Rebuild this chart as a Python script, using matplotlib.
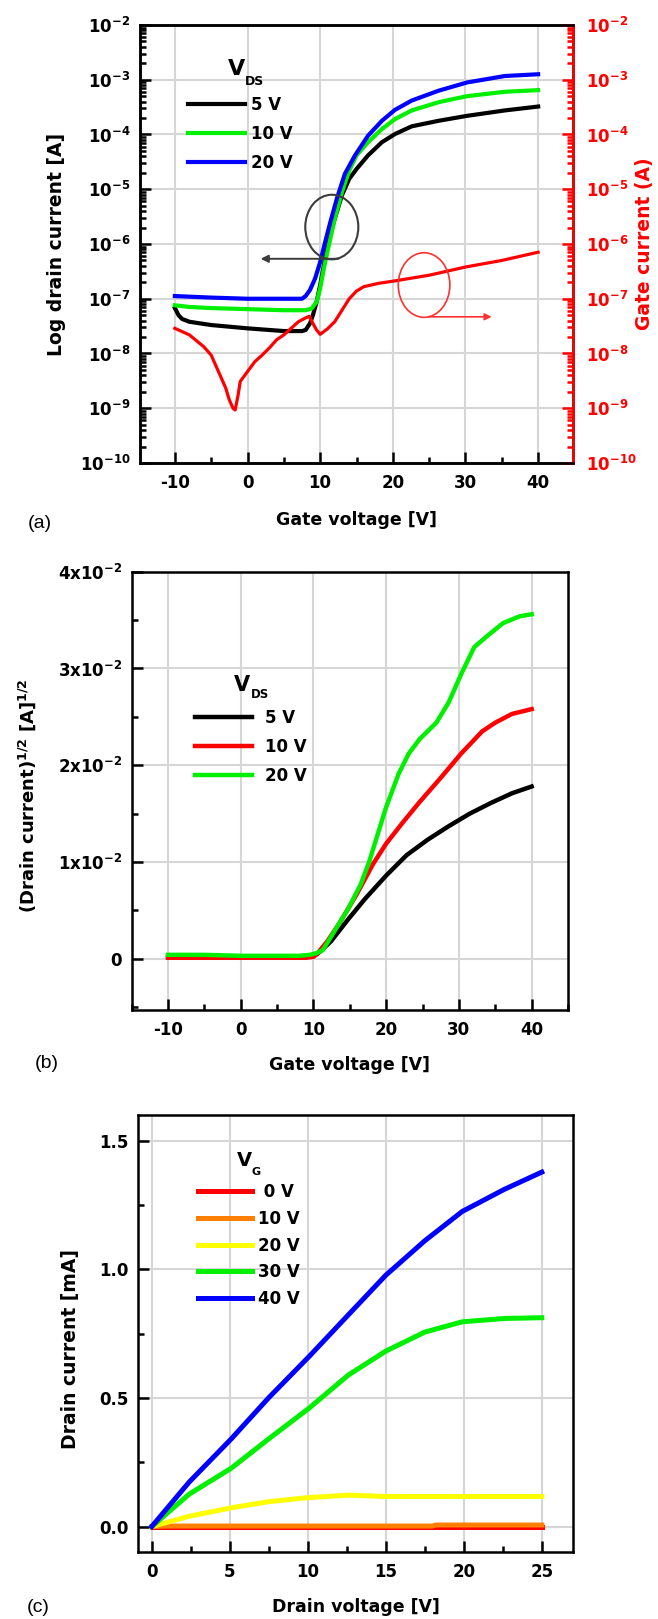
import matplotlib
matplotlib.use('Agg')
import matplotlib.pyplot as plt
import numpy as np
from matplotlib.patches import Ellipse
from matplotlib.ticker import FixedLocator, MultipleLocator, LogLocator, NullFormatter, FixedFormatter

plt.rcParams['font.family'] = ['DejaVu Sans']
plt.rcParams['font.weight'] = 'bold'
plt.rcParams['axes.labelweight'] = 'bold'
plt.rcParams['mathtext.fontset'] = 'dejavusans'
plt.rcParams['mathtext.default'] = 'bf'
plt.rcParams['axes.unicode_minus'] = False

# ---------------- data: panel (a) transfer curves (log) ----------------
vg_a_5 = [-10, -9.5, -9, -8, -5, 0, 5, 7.5, 8, 8.6, 9, 9.5, 10, 10.5, 11, 12, 13, 14, 15,
          16.6, 18.5, 20.3, 22.6, 26.3, 30.2, 35.4, 40]
id_a_5 = [6.76e-8, 5.01e-8, 4.27e-8, 3.80e-8, 3.31e-8, 2.88e-8, 2.57e-8, 2.57e-8, 2.69e-8,
          3.55e-8, 5.01e-8, 8.71e-8, 1.78e-7, 4.07e-7, 9.55e-7, 2.88e-6, 7.76e-6, 1.55e-5,
          2.34e-5, 4.17e-5, 7.24e-5, 1.02e-4, 1.41e-4, 1.78e-4, 2.19e-4, 2.75e-4, 3.24e-4]
vg_a_10 = [-10, -8, -5, 0, 5, 8, 8.8, 9.5, 10, 10.5, 11, 12, 13, 14, 15, 16.6, 18.5, 20.3,
           22.6, 26.3, 30.2, 35.4, 40]
id_a_10 = [7.59e-8, 7.08e-8, 6.76e-8, 6.46e-8, 6.17e-8, 6.17e-8, 6.61e-8, 8.71e-8, 1.55e-7,
           3.55e-7, 7.24e-7, 2.88e-6, 8.91e-6, 2.19e-5, 4.17e-5, 7.24e-5, 1.26e-4, 1.91e-4,
           2.75e-4, 3.89e-4, 5.01e-4, 6.03e-4, 6.46e-4]
vg_a_20 = [-10, -5, 0, 5, 7.5, 8, 8.6, 9.3, 10, 10.7, 11.4, 12.3, 13.4, 14.8, 16.6, 18.5,
           20.3, 22.6, 26.3, 30.2, 35.4, 40]
id_a_20 = [1.12e-7, 1.05e-7, 1.00e-7, 1.00e-7, 1.00e-7, 1.12e-7, 1.45e-7, 2.34e-7, 4.68e-7,
           1.10e-6, 2.51e-6, 6.76e-6, 1.91e-5, 4.17e-5, 9.55e-5, 1.78e-4, 2.82e-4, 4.17e-4,
           6.31e-4, 8.91e-4, 1.17e-3, 1.26e-3]
vg_gate = [-10, -8, -6, -5, -4, -3, -2.5, -2, -1.7, -1.3, -1, 0, 1, 2, 3, 4, 5, 6, 7, 8, 8.5,
           9, 9.5, 10, 10.5, 11, 12, 13, 14, 15, 16, 17, 18, 20, 25, 30, 35, 40]
ig_gate = [2.88e-8, 2.19e-8, 1.32e-8, 9.33e-9, 4.68e-9, 2.34e-9, 1.41e-9, 1.0e-9, 9.3e-10,
           1.74e-9, 3.09e-9, 4.68e-9, 7.08e-9, 9.33e-9, 1.26e-8, 1.78e-8, 2.19e-8, 2.88e-8,
           3.80e-8, 4.47e-8, 4.79e-8, 3.55e-8, 2.69e-8, 2.24e-8, 2.51e-8, 2.82e-8, 3.80e-8,
           6.17e-8, 1.00e-7, 1.38e-7, 1.66e-7, 1.78e-7, 1.91e-7, 2.09e-7, 2.69e-7, 3.80e-7,
           5.01e-7, 7.08e-7]
labels_a = ['5 V', '10 V', '20 V']
decade_ticks = [1e-10, 1e-9, 1e-8, 1e-7, 1e-6, 1e-5, 1e-4, 1e-3, 1e-2]
decade_labels = [r'$10^{-10}$', r'$10^{-9}$', r'$10^{-8}$', r'$10^{-7}$', r'$10^{-6}$',
                 r'$10^{-5}$', r'$10^{-4}$', r'$10^{-3}$', r'$10^{-2}$']

# ---------------- data: panel (b) sqrt(Id) ----------------
vg_b_5 = [-10, -5, 0, 5, 9, 10, 10.5, 11, 12.4, 14.8, 17.1, 20, 22.8, 25.7, 28.6, 31.5, 34.4, 37.3, 40]
sq_b_5 = [0.0002, 0.0002, 0.0002, 0.0002, 0.0002, 0.0003, 0.0005, 0.0008, 0.0018, 0.0041, 0.0062,
          0.0086, 0.0107, 0.0123, 0.0137, 0.0150, 0.0161, 0.0171, 0.0178]
vg_b_10 = [-10, -5, 0, 5, 9, 10, 10.5, 11.9, 13.6, 15.9, 18.2, 20, 22.3, 24.6, 27.5, 30.3, 33.2,
           35, 37.3, 40]
sq_b_10 = [0.0001, 0.0001, 0.0001, 0.0001, 0.0001, 0.0002, 0.0005, 0.0018, 0.0037, 0.0066, 0.0098,
           0.0119, 0.0141, 0.0162, 0.0187, 0.0212, 0.0235, 0.0244, 0.0253, 0.0258]
vg_b_20 = [-10, -5, 0, 5, 8, 9.5, 10.5, 11.3, 13.0, 14.8, 16.5, 17.65, 19.96, 21.7, 23.1, 24.6,
           26.9, 28.6, 30.3, 32.1, 33.8, 36.1, 38.4, 40]
sq_b_20 = [0.0004, 0.0004, 0.0003, 0.0003, 0.0003, 0.0004, 0.0006, 0.0009, 0.0030, 0.0052, 0.0077,
           0.0100, 0.0156, 0.0191, 0.0212, 0.0227, 0.0244, 0.0265, 0.0294, 0.0322, 0.0333, 0.0347,
           0.0354, 0.0356]
labels_b = ['5 V', '10 V', '20 V']
b_yticks = [0, 0.01, 0.02, 0.03, 0.04]
b_ylabels = ['0', r'$1x10^{-2}$', r'$2x10^{-2}$', r'$3x10^{-2}$', r'$4x10^{-2}$']

# ---------------- data: panel (c) output curves ----------------
vd_c = [0, 2.4, 5.1, 7.5, 10.1, 12.6, 15.0, 17.5, 19.9, 22.6, 25]
id_c_40 = [0, 0.173, 0.341, 0.501, 0.662, 0.823, 0.977, 1.111, 1.225, 1.311, 1.378]
id_c_30 = [0, 0.126, 0.227, 0.341, 0.461, 0.589, 0.682, 0.756, 0.796, 0.809, 0.812]
id_c_20 = [0, 0.040, 0.073, 0.097, 0.113, 0.122, 0.117, 0.117, 0.117, 0.117, 0.117]
vd_c_0 = [0, 5, 10, 15, 20, 25]
id_c_0 = [0, 0, 0, 0, 0, 0]
vd_c_10 = [0, 1, 5, 10, 15, 18, 18.2, 20, 25]
id_c_10 = [0, 0.002, 0.002, 0.002, 0.002, 0.002, 0.006, 0.006, 0.006]
labels_c = [' 0 V', '10 V', '20 V', '30 V', '40 V']
c_yticks = [0.0, 0.5, 1.0, 1.5]
c_ylabels = ['0.0', '0.5', '1.0', '1.5']

# annotation shapes in panel (a): (x centre, y centre, width [V], height [decades])
gray_ellipse = (11.6, 2.04e-6, 7.3, 1.18)
red_ellipse = (24.3, 1.78e-7, 7.1, 1.18)
gray_arrow = ((12.5, 5.37e-7), (1.8, 5.37e-7))
red_arrow = ((24.9, 4.68e-8), (33.6, 4.68e-8))

W, H = 658, 1619
fig = plt.figure(figsize=(W / 100, H / 100), dpi=100)


def add_axes(l, r, t, b):
    return fig.add_axes([l / W, 1 - b / H, (r - l) / W, (b - t) / H])


def style(ax):
    for s in ax.spines.values():
        s.set_linewidth(1.8)
    ax.tick_params(which='both', direction='in', top=False, right=False, width=1.8,
                   labelsize=12)
    ax.tick_params(axis='x', which='both', pad=8)
    ax.tick_params(axis='y', which='both', pad=7)
    ax.tick_params(which='major', length=8)
    ax.tick_params(which='minor', length=4)
    ax.grid(True, which='major', color='#d6d6d6', lw=1.5)
    ax.set_axisbelow(True)


def ftext(x, y, s, **kw):
    fig.text(x / W, 1 - y / H, s, **kw)


GREEN = '#00f000'
BLUE = '#0000ff'

# ======================= panel (a) =======================
axA = add_axes(140, 573, 25, 463)
style(axA)
axA.set_yscale('log')
axA.set_xlim(-14.8, 44.8)
axA.set_ylim(1e-10, 1e-2)
axA.xaxis.set_major_locator(MultipleLocator(10))
axA.xaxis.set_minor_locator(MultipleLocator(5))
axA.yaxis.set_major_locator(FixedLocator(decade_ticks))
axA.yaxis.set_major_formatter(FixedFormatter(decade_labels))
axA.yaxis.set_minor_locator(LogLocator(base=10, subs=np.arange(2, 10) * 1.0, numticks=100))
axA.yaxis.set_minor_formatter(NullFormatter())
la1, = axA.plot(vg_a_5, id_a_5, color='black', lw=3.0, label=labels_a[0])
la2, = axA.plot(vg_a_10, id_a_10, color=GREEN, lw=3.0, label=labels_a[1])
la3, = axA.plot(vg_a_20, id_a_20, color=BLUE, lw=3.0, label=labels_a[2])
axA.set_ylabel('Log drain current [A]', fontsize=13.5, va='center')
axA.yaxis.set_label_coords(-0.192, 0.5)
axA.set_xlabel('Gate voltage [V]', fontsize=12.5, va='center')
axA.xaxis.set_label_coords(0.5, -0.130)
axA.legend(handles=[la1, la2, la3], loc='upper left', bbox_to_anchor=(0.111, 0.838),
           frameon=False, fontsize=12, handlelength=3.4, handletextpad=0.4,
           labelspacing=0.66, borderpad=0, borderaxespad=0)

ax2 = axA.twinx()
ax2.set_yscale('log')
ax2.set_ylim(1e-10, 1e-2)
ax2.plot(vg_gate, ig_gate, color='#ff0000', lw=2.3)
ax2.yaxis.set_major_locator(FixedLocator(decade_ticks))
ax2.yaxis.set_major_formatter(FixedFormatter(decade_labels))
ax2.yaxis.set_minor_locator(LogLocator(base=10, subs=np.arange(2, 10) * 1.0, numticks=100))
ax2.yaxis.set_minor_formatter(NullFormatter())
for s in ax2.spines.values():
    s.set_linewidth(1.8)
ax2.spines['right'].set_color('#ff0000')
ax2.tick_params(axis='y', which='both', direction='in', color='#ff0000', labelcolor='#ff0000',
                width=1.8, labelsize=12, pad=9)
ax2.tick_params(axis='y', which='major', length=8)
ax2.tick_params(axis='y', which='minor', length=4)
ax2.set_ylabel('Gate current (A)', fontsize=13.5, color='#ff0000', va='center')
ax2.yaxis.set_label_coords(1.164, 0.5)


def to_axes(ax, x, y):
    return ax.transAxes.inverted().transform(ax.transData.transform((x, y)))


xr = axA.get_xlim()[1] - axA.get_xlim()[0]
for (cx, cy, w, h), col, lw, axx in [(gray_ellipse, '#3c3c3c', 1.5, axA),
                                     (red_ellipse, '#ff3030', 1.2, ax2)]:
    c = to_axes(axx, cx, cy)
    axx.add_patch(Ellipse(c, w / xr, h / 8.0, transform=axx.transAxes, fill=False,
                          edgecolor=col, lw=lw, zorder=5))
axA.annotate('', xy=gray_arrow[1], xytext=gray_arrow[0],
             arrowprops=dict(arrowstyle='-|>', color='#3c3c3c', lw=1.4, mutation_scale=11,
                             shrinkA=0, shrinkB=0))
ax2.annotate('', xy=red_arrow[1], xytext=red_arrow[0],
             arrowprops=dict(arrowstyle='-|>', color='#ff3030', lw=1.2, mutation_scale=10,
                             shrinkA=0, shrinkB=0))

ftext(228, 75, 'V', fontsize=16, ha='left', va='baseline')
ftext(245, 85, 'DS', fontsize=9, ha='left', va='baseline')
ftext(40, 523, '(a)', fontsize=14, fontweight='normal', family='Liberation Sans',
      ha='center', va='center')

# ======================= panel (b) =======================
axB = add_axes(131.7, 568, 571.7, 1010)
style(axB)
axB.set_xlim(-15, 45)
axB.set_ylim(-0.0053, 0.04)
axB.xaxis.set_major_locator(MultipleLocator(10))
axB.xaxis.set_minor_locator(MultipleLocator(5))
axB.yaxis.set_major_locator(FixedLocator(b_yticks))
axB.yaxis.set_major_formatter(FixedFormatter(b_ylabels))
axB.yaxis.set_minor_locator(MultipleLocator(0.005))
lb1, = axB.plot(vg_b_5, sq_b_5, color='black', lw=3.2, label=labels_b[0])
lb2, = axB.plot(vg_b_10, sq_b_10, color='#ff0000', lw=3.2, label=labels_b[1])
lb3, = axB.plot(vg_b_20, sq_b_20, color=GREEN, lw=3.2, label=labels_b[2])
axB.set_ylabel(r'(Drain current)$^{1/2}$ [A]$^{1/2}$', fontsize=13, va='center')
axB.yaxis.set_label_coords(-0.24, 0.488)
axB.set_xlabel('Gate voltage [V]', fontsize=12.5, va='center')
axB.xaxis.set_label_coords(0.5, -0.1255)
axB.legend(handles=[lb1, lb2, lb3], loc='upper left', bbox_to_anchor=(0.145, 0.686),
           frameon=False, fontsize=12, handlelength=3.4, handletextpad=0.78,
           labelspacing=0.66, borderpad=0, borderaxespad=0)
ftext(234, 691, 'V', fontsize=15, ha='left', va='baseline')
ftext(251, 698, 'DS', fontsize=8.5, ha='left', va='baseline')
ftext(47, 1063, '(b)', fontsize=14, fontweight='normal', family='Liberation Sans',
      ha='center', va='center')

# ======================= panel (c) =======================
axC = add_axes(138.3, 573, 1115, 1552.3)
style(axC)
axC.set_xlim(-0.86, 27.0)
axC.set_ylim(-0.1, 1.6)
axC.xaxis.set_major_locator(MultipleLocator(5))
axC.xaxis.set_minor_locator(MultipleLocator(2.5))
axC.yaxis.set_major_locator(FixedLocator(c_yticks))
axC.yaxis.set_major_formatter(FixedFormatter(c_ylabels))
axC.yaxis.set_minor_locator(MultipleLocator(0.25))
lc0, = axC.plot(vd_c_0, id_c_0, color='#ff0000', lw=3.6, label=labels_c[0])
lc1, = axC.plot(vd_c_10, id_c_10, color='#ff8000', lw=3.6, label=labels_c[1])
lc2, = axC.plot(vd_c, id_c_20, color='#ffff00', lw=3.6, label=labels_c[2])
lc3, = axC.plot(vd_c, id_c_30, color=GREEN, lw=3.6, label=labels_c[3])
lc4, = axC.plot(vd_c, id_c_40, color=BLUE, lw=3.6, label=labels_c[4])
axC.set_ylabel('Drain current [mA]', fontsize=13.5, va='center')
axC.yaxis.set_label_coords(-0.155, 0.465)
axC.set_xlabel('Drain voltage [V]', fontsize=12.5, va='center')
axC.xaxis.set_label_coords(0.5, -0.125)
axC.legend(handles=[lc0, lc1, lc2, lc3, lc4], loc='upper left', bbox_to_anchor=(0.137, 0.844),
           frameon=False, fontsize=12, handlelength=3.23, handletextpad=0.36,
           labelspacing=0.52, borderpad=0, borderaxespad=0)
ftext(237, 1166, 'V', fontsize=14, ha='left', va='baseline')
ftext(252, 1175, 'G', fontsize=8, ha='left', va='baseline')
ftext(38.5, 1607, '(c)', fontsize=14, fontweight='normal', family='Liberation Sans',
      ha='center', va='center')

fig.savefig('out.png', dpi=100)
